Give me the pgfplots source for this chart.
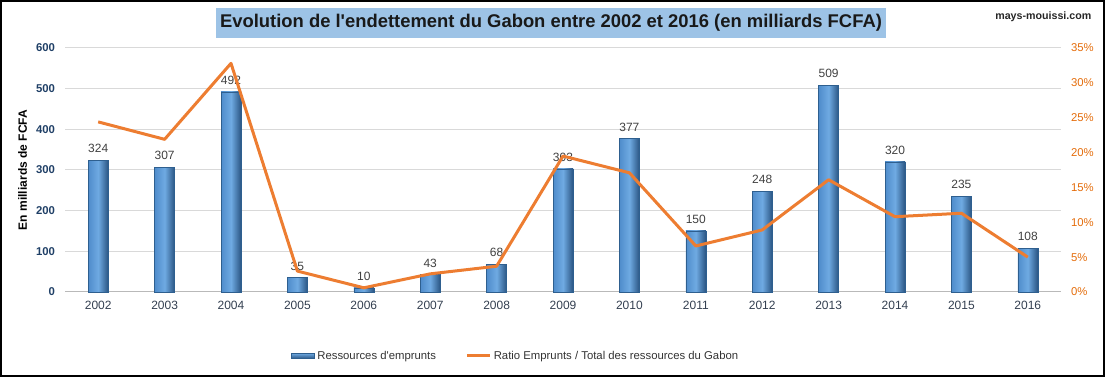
\documentclass[border=0pt]{standalone}
\usepackage{pgfplots}
\pgfplotsset{compat=1.18}
\usepackage{fontspec}
\setmainfont{Liberation Sans}
\definecolor{barleft}{HTML}{4F8CCB}
\definecolor{barmid}{HTML}{6FAAE2}
\definecolor{barright}{HTML}{2A5583}
\definecolor{bardraw}{HTML}{2E5F8F}
\definecolor{lineorange}{HTML}{ED7D31}
\definecolor{tickorange}{HTML}{E46C0A}
\definecolor{navy}{HTML}{1F3F66}
\definecolor{xlab}{HTML}{333F50}
\definecolor{titlebg}{HTML}{9DC3E6}

\pgfplotstableread{
x val
0 324
1 307
2 492
3 35
4 10
5 43
6 68
7 303
8 377
9 150
10 248
11 509
12 320
13 235
14 108
}\bars

\pgfplotstableread{
x ratio
0 24.4
1 21.9
2 32.8
3 3.0
4 0.6
5 2.6
6 3.7
7 19.5
8 17.1
9 6.6
10 8.9
11 16.1
12 10.8
13 11.3
14 5.0
}\ratio

\begin{document}
\begin{tikzpicture}
\draw[line width=1.5pt, black] (0.75pt,0.75pt) rectangle (828pt,282pt);
\node[fill=titlebg, minimum height=22.5pt, inner xsep=3pt, font=\bfseries\fontsize{13.8}{16}\selectfont, text=black!90] at (413.25pt,265.5pt) {Evolution de l\textquotesingle endettement du Gabon entre 2002 et 2016 (en milliards FCFA)};
\node[anchor=east, font=\bfseries\fontsize{8}{9}\selectfont, text=black!85] at (822pt,270pt) {mays-mouissi.com};

\begin{axis}[
  at={(48.75pt,63.75pt)}, anchor=south west,
  scale only axis, width=747pt, height=183pt,
  xmin=-0.5, xmax=14.5, ymin=0, ymax=600,
  xtick={0,...,14},
  xticklabels={2002,2003,2004,2005,2006,2007,2008,2009,2010,2011,2012,2013,2014,2015,2016},
  ytick={0,100,...,600},
  axis y line*=left, axis x line*=bottom,
  y axis line style={draw=none},
  x axis line style={draw=gray!55, line width=0.75pt, -},
  ymajorgrids, grid style={gray!30, line width=0.75pt},
  major tick style={draw=none},
  xticklabel style={font=\fontsize{9}{10}\selectfont, text=xlab, yshift=-3pt},
  yticklabel style={font=\bfseries\fontsize{8.5}{10}\selectfont, text=navy, xshift=-4pt},
  /pgf/number format/assume math mode=true,
  ylabel={En milliards de FCFA},
  ylabel style={font=\bfseries\fontsize{9}{10}\selectfont, text=black},
  nodes near coords,
  every node near coord/.append style={font=\fontsize{9}{10}\selectfont, text=black!75, yshift=2pt},
  clip=false,
]
\pgfplotsinvokeforeach{0,...,14}{
  \addplot[ybar, bar width=15pt, bar shift=0pt, draw=bardraw, line width=0.4pt,
    left color=barleft, right color=barright, middle color=barmid,
    restrict x to domain=#1:#1] table[x=x, y=val] {\bars};
}
\end{axis}

\begin{axis}[
  at={(48.75pt,63.75pt)}, anchor=south west,
  scale only axis, width=747pt, height=183pt,
  xmin=-0.5, xmax=14.5, ymin=0, ymax=35,
  axis y line*=right, axis x line=none,
  y axis line style={draw=none},
  major tick style={draw=none},
  ytick={0,5,...,35},
  yticklabel={\pgfmathprintnumber{\tick}\%},
  /pgf/number format/assume math mode=true,
  yticklabel style={font=\fontsize{8.5}{10}\selectfont, text=tickorange, xshift=4pt},
  legend style={at={(0.453,-0.262)}, anchor=center, draw=none, fill=none,
    font=\fontsize{8.5}{10}\selectfont, text=black!80,
    /tikz/every even column/.append style={column sep=20pt}},
  legend columns=2,
  legend cell align=left,
]
\addlegendimage{legend image code/.code={\draw[draw=bardraw, top color=barmid, bottom color=barright] (0pt,-2pt) rectangle (17pt,2pt);}}
\addlegendentry{Ressources d\textquotesingle emprunts}
\addplot[lineorange, line width=2.25pt, line join=round, mark=none] table[x=x, y=ratio] {\ratio};
\addlegendentry{Ratio Emprunts / Total des ressources du Gabon}
\end{axis}
\end{tikzpicture}
\end{document}
